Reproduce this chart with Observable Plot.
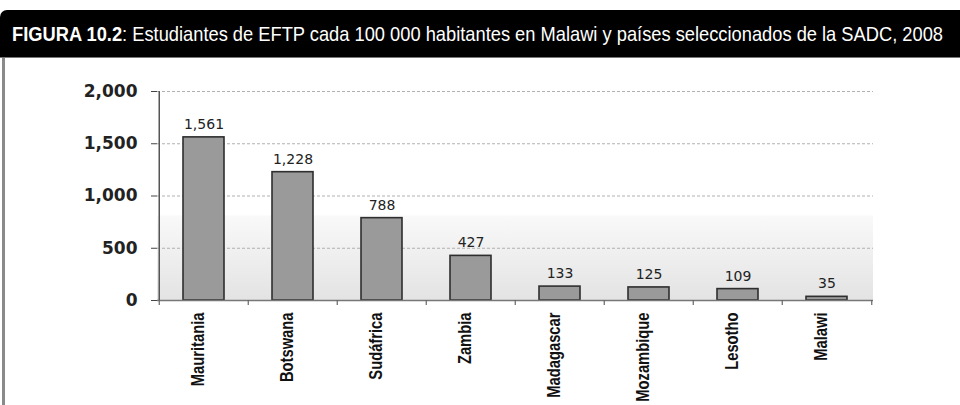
<!DOCTYPE html>
<html>
<head>
<meta charset="utf-8">
<script src="https://cdn.jsdelivr.net/npm/d3@7"></script>
<script src="https://cdn.jsdelivr.net/npm/@observablehq/plot@0.6"></script>
<style>
  html, body { margin: 0; padding: 0; background: #fff; }
  body { width: 960px; height: 405px; position: relative; overflow: hidden; }
  #title {
    position: absolute; left: 0; top: 10px; width: 960px; height: 48px;
    background: #000; color: #fff; border-top-left-radius: 7px;
    box-sizing: border-box; padding-left: 12px;
    font-family: "Liberation Sans", Arial, sans-serif;
    font-size: 21px; line-height: 48px; white-space: nowrap;
    border-bottom: 1px solid #777; overflow: hidden;
  }
  #titleInner { display: inline-block; transform-origin: 0 50%; }
  #border { position: absolute; left: 2px; top: 58px; width: 3px; height: 347px; background: #8a8a8a; }
  #chart { position: absolute; left: 0; top: 58px; }
</style>
</head>
<body>
<div id="title"><span id="titleInner"></span></div>
<div id="border"></div>
<div id="chart"></div>
<script>
const titleBold = "FIGURA 10.2";
const titleRest = ": Estudiantes de EFTP cada 100 000 habitantes en Malawi y países seleccionados de la SADC, 2008";
const categories = ["Mauritania", "Botswana", "Sudáfrica", "Zambia", "Madagascar", "Mozambique", "Lesotho", "Malawi"];
const values = [1561, 1228, 788, 427, 133, 125, 109, 35];
const yTicks = [0, 500, 1000, 1500, 2000];

const ti = document.getElementById("titleInner");
const b = document.createElement("b");
b.textContent = titleBold;
ti.appendChild(b);
ti.appendChild(document.createTextNode(titleRest));
const tw = ti.getBoundingClientRect().width;
ti.style.transform = `scaleX(${931 / tw})`;

const data = categories.map((c, i) => ({pais: c, valor: values[i]}));
const fmt = d3.format(",");

const W = 960, H = 347, mL = 157, mR = 87, mT = 33, mB = 105;
const step = (W - mL - mR) / categories.length;

const defs = () => {
  const d = d3.create("svg:defs");
  const g = d.append("linearGradient").attr("id", "bgGrad")
    .attr("x1", 0).attr("y1", 0).attr("x2", 0).attr("y2", 1);
  g.append("stop").attr("offset", "0").attr("stop-color", "#ffffff");
  g.append("stop").attr("offset", "0.59").attr("stop-color", "#ffffff");
  g.append("stop").attr("offset", "0.60").attr("stop-color", "#f9f9f9");
  g.append("stop").attr("offset", "1").attr("stop-color", "#e3e3e3");
  return d.node();
};

const chart = Plot.plot({
  width: W, height: H,
  marginLeft: mL, marginRight: mR, marginTop: mT, marginBottom: mB,
  style: {background: "transparent", fontFamily: "'DejaVu Sans', sans-serif"},
  x: {domain: categories, paddingInner: 0.54, paddingOuter: 0.27, axis: null},
  y: {domain: [0, 2000], axis: null},
  marks: [
    defs,
    Plot.rect([0], {y1: 0, y2: 2000, fill: "url(#bgGrad)"}),
    Plot.ruleY(yTicks.filter(d => d > 0), {stroke: "#b0b0b0", strokeDasharray: "3,2", strokeWidth: 1}),
    Plot.barY(data, {x: "pais", y: "valor", fill: "#9a9a9a", stroke: "#2e2e2e", strokeWidth: 1.6}),
    Plot.ruleY([0], {stroke: "#777", strokeWidth: 1.5}),
    Plot.ruleX([categories[0]], {y1: 0, y2: 2000, dx: -step / 2, stroke: "#555", strokeWidth: 1.5}),
    Plot.ruleX(categories, {x: d => d, y1: 0, y2: 0, dx: -step / 2, insetBottom: -5, stroke: "#666", strokeWidth: 1.2}),
    Plot.ruleX([categories[categories.length - 1]], {x: d => d, y1: 0, y2: 0, dx: step / 2, insetBottom: -5, stroke: "#666", strokeWidth: 1.2}),
    Plot.axisY({ticks: yTicks, tickFormat: fmt, tickSize: 6, tickPadding: 14, fontSize: 17, fontWeight: "bold", stroke: "#444", fill: "#222", label: null}),
    Plot.text(data, {x: "pais", y: "valor", text: d => fmt(d.valor), dy: -13, fontSize: 14, fill: "#222"}),
    Plot.text(data, {x: "pais", text: "pais", frameAnchor: "bottom", dy: 12, rotate: -90, textAnchor: "end",
      fontSize: 18, fontWeight: "bold", fill: "#111", fontFamily: "'Liberation Sans', Arial, sans-serif"})
  ]
});
// condense the rotated category labels along their reading direction
d3.select(chart).selectAll("text").filter(function() {
  return (this.getAttribute("transform") || "").includes("rotate(-90)");
}).attr("transform", function() { return this.getAttribute("transform") + " scale(0.82,1)"; });
document.getElementById("chart").appendChild(chart);
</script>
</body>
</html>
